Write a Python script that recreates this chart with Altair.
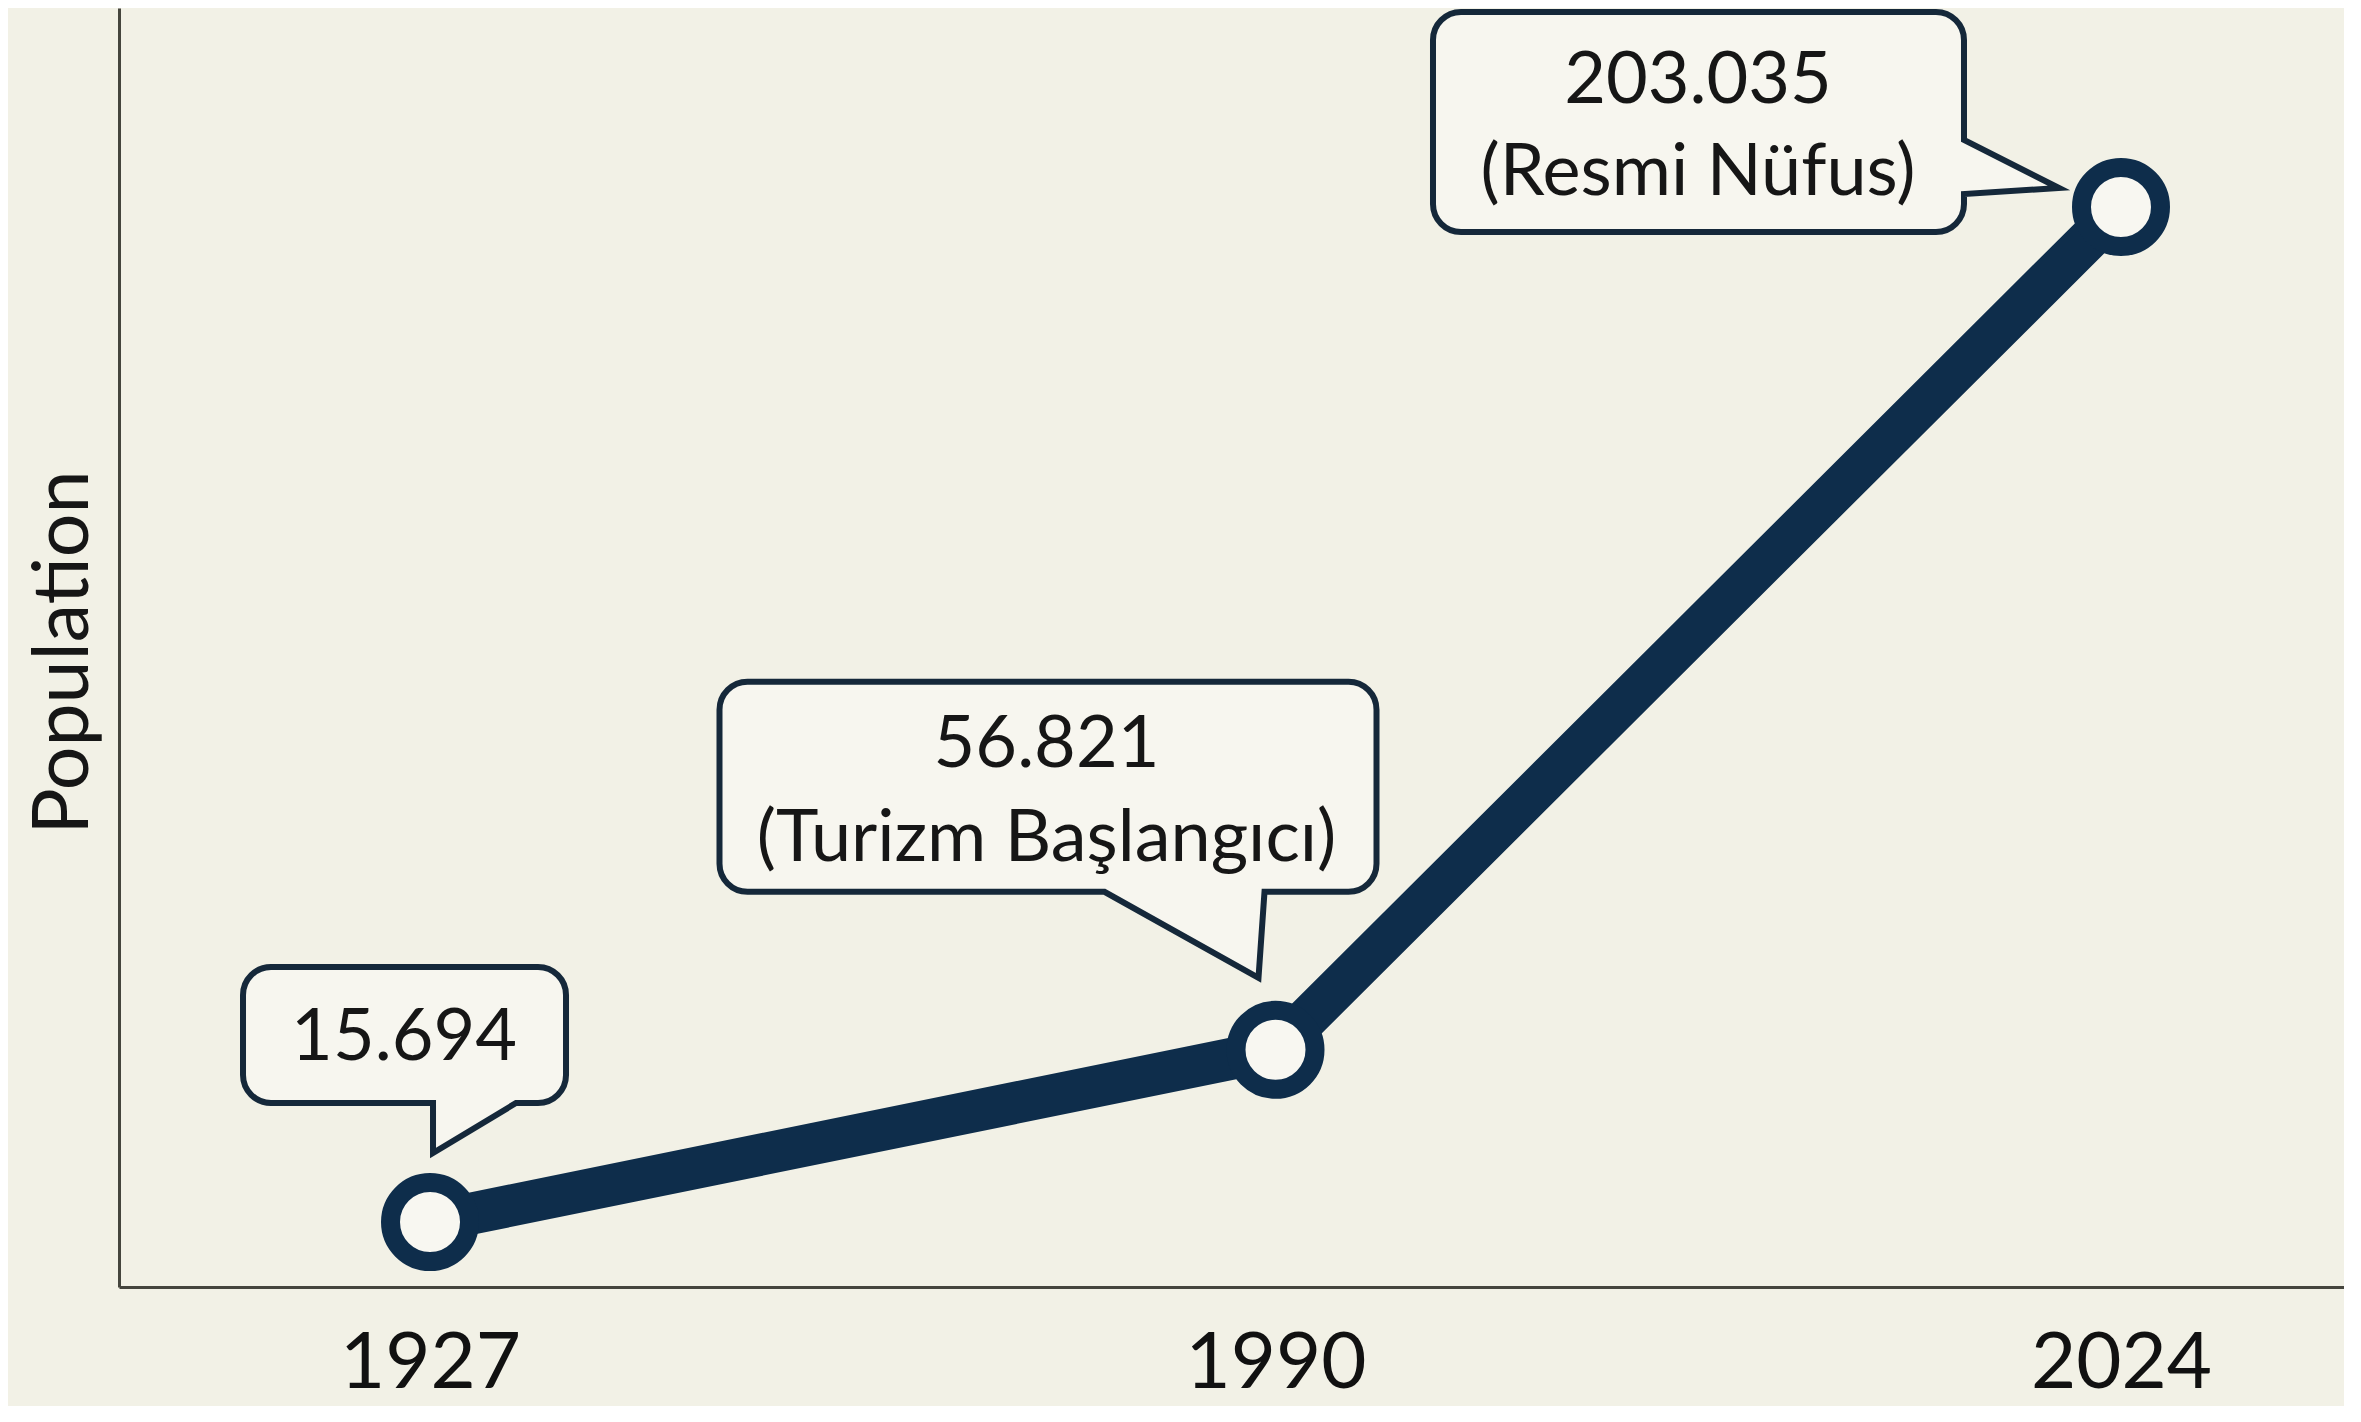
import altair as alt
import pandas as pd

# ---- data ----
years = ["1927", "1990", "2024"]
population = [15694, 56821, 203035]
notes = ["", "(Turizm Başlangıcı)", "(Resmi Nüfus)"]

df = pd.DataFrame({
    "year": years,
    "pop": population,
    "label": [f"{v:,}".replace(",", ".") for v in population],
    "note": notes,
})

# ---- style ----
BG = "#f2f1e6"
NAVY = "#0e2d4b"
BOX_STROKE = "#15283a"
BOX_FILL = "#f7f6ef"
TEXT = "#161616"
FONT = "Lato"

W, H = 2225, 1279

x_enc = alt.X(
    "year:O", sort=years, title=None,
    scale=alt.Scale(type="point", padding=0.3158, align=0.5824),
    axis=alt.Axis(labelAngle=0, ticks=False, grid=False, labelFont=FONT,
                  labelFontSize=78, labelColor="#111111", labelPadding=38,
                  labelLimit=0, labelOverlap=False,
                  domainColor="#45453d", domainWidth=3),
)
y_enc = alt.Y(
    "pop:Q", title="Population",
    scale=alt.Scale(type="pow", exponent=1.25, domain=[-9106, 233050],
                    zero=False, nice=False),
    axis=alt.Axis(labels=False, ticks=False, grid=False,
                  domainColor="#45453d", domainWidth=3,
                  titleFont=FONT, titleFontSize=77, titleFontWeight="normal",
                  titleColor="#161616", titleAngle=270, titleAlign="center",
                  titleBaseline="alphabetic", titleX=-32, titleY=644),
)

base = alt.Chart(df).encode(x=x_enc, y=y_enc)

line = base.mark_line(color=NAVY, strokeWidth=42, strokeJoin="round")
points = base.mark_point(shape="circle", filled=True, fill="#f8f7f1",
                         stroke=NAVY, strokeWidth=19, size=6241, opacity=1)

# ---- callout bubbles (geometry relative to the anchored point, px) ----
H_UNIT = 700.0
K = 0.5523


def bubble_path(L, R, T, B, r, side, ptr):
    def p(x, y):
        return f"{x / H_UNIT:.5f},{y / H_UNIT:.5f}"
    cmds = [f"M{p(L + r, T)}", f"L{p(R - r, T)}",
            f"C{p(R - r + K * r, T)} {p(R, T + r - K * r)} {p(R, T + r)}"]
    if side == "right":
        cmds += [f"L{p(*q)}" for q in ptr]
    cmds += [f"L{p(R, B - r)}",
             f"C{p(R, B - r + K * r)} {p(R - r + K * r, B)} {p(R - r, B)}"]
    if side == "bottom":
        cmds += [f"L{p(*q)}" for q in ptr]
    cmds += [f"L{p(L + r, B)}",
             f"C{p(L + r - K * r, B)} {p(L, B - r + K * r)} {p(L, B - r)}",
             f"L{p(L, T + r)}",
             f"C{p(L, T + r - K * r)} {p(L + r - K * r, T)} {p(L + r, T)}",
             "Z"]
    return " ".join(cmds)


callouts = [
    # year, box (L,R,T,B), side, pointer, value text offset, note text offset
    ("1927", (-187, 136, -255, -119), "bottom",
     [(86, -119), (3, -69), (3, -119)], (-26, -184), None),
    ("1990", (-556, 101, -368, -158), "bottom",
     [(-11, -158), (-17, -72), (-171, -158)], (-229, -305), (-229, -211)),
    ("2024", (-688, -157, -195, 25), "right",
     [(-157, -67), (-62, -19), (-157, -13)], (-423, -126), (-423, -34)),
]

layers = [line, points]
for yr, (L, R, T, B), side, ptr, vpos, npos in callouts:
    sub = base.transform_filter(alt.datum.year == yr)
    layers.append(sub.mark_point(
        shape=bubble_path(L, R, T, B, 28, side, ptr), filled=True,
        fill=BOX_FILL, stroke=BOX_STROKE, strokeWidth=6,
        size=(2 * H_UNIT) ** 2, opacity=1))
    layers.append(sub.mark_text(
        font=FONT, fontSize=72, color=TEXT, align="center", baseline="middle",
        dx=vpos[0], dy=vpos[1]).encode(text="label:N"))
    if npos is not None:
        layers.append(sub.mark_text(
            font=FONT, fontSize=72, color=TEXT, align="center",
            baseline="middle", dx=npos[0], dy=npos[1]).encode(text="note:N"))

chart = alt.layer(*layers).properties(
    width=W, height=H, background=BG,
    autosize=alt.AutoSizeParams(type="none"),
    padding={"left": 111, "top": 0, "right": 0, "bottom": 119},
).configure_view(stroke=None)

chart.save("out.html", embed_options={"renderer": "svg", "actions": False})
